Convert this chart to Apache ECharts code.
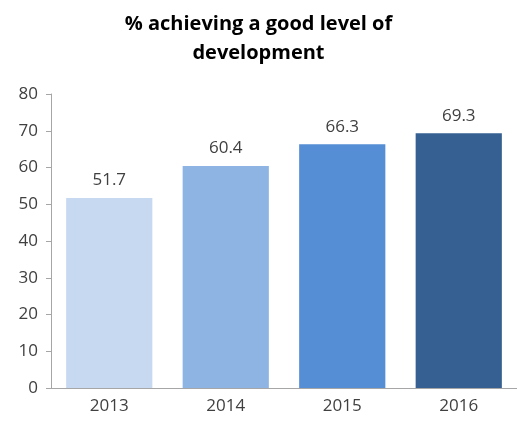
<!DOCTYPE html>
<html><head><meta charset="utf-8">
<script src="https://cdn.jsdelivr.net/npm/echarts@6/dist/echarts.min.js"></script>
<style>html,body{margin:0;padding:0;background:#fff}#c{width:517px;height:427px}</style>
</head><body><div id="c"></div>
<script>
const categories = ['2013', '2014', '2015', '2016'];
const values = [51.7, 60.4, 66.3, 69.3];
const barColors = ['#c6d9f1', '#8eb4e3', '#558ed5', '#376092'];
const titleText = '% achieving a good level of\ndevelopment';

const chart = echarts.init(document.getElementById('c'));
chart.setOption({
  animation: false,
  title: {
    text: titleText, left: 'center', top: 5,
    textStyle: { fontFamily: 'Open Sans', fontWeight: 'bold', fontSize: 20, color: '#000', lineHeight: 29 }
  },
  grid: { left: 51, top: 94, width: 471, bottom: 39 },
  xAxis: {
    type: 'category', data: categories,
    axisLine: { lineStyle: { color: '#a6a6a6' } },
    axisTick: { lineStyle: { color: '#a6a6a6' }, length: 5 },
    axisLabel: { fontFamily: 'Open Sans', fontSize: 17, color: '#404040', margin: 10 }
  },
  yAxis: {
    type: 'value', min: 0, max: 80, interval: 10,
    axisLine: { show: true, lineStyle: { color: '#a6a6a6' } },
    axisTick: { show: true, lineStyle: { color: '#a6a6a6' }, length: 5 },
    splitLine: { show: false },
    axisLabel: { fontFamily: 'Open Sans', fontSize: 17, color: '#404040', margin: 13 }
  },
  series: [{
    type: 'bar',
    data: values.map((v, i) => ({ value: v, itemStyle: { color: barColors[i] } })),
    barCategoryGap: '26%',
    label: { show: true, position: 'top', distance: 9, fontFamily: 'Open Sans', fontSize: 17, color: '#404040' }
  }]
});
</script></body></html>
